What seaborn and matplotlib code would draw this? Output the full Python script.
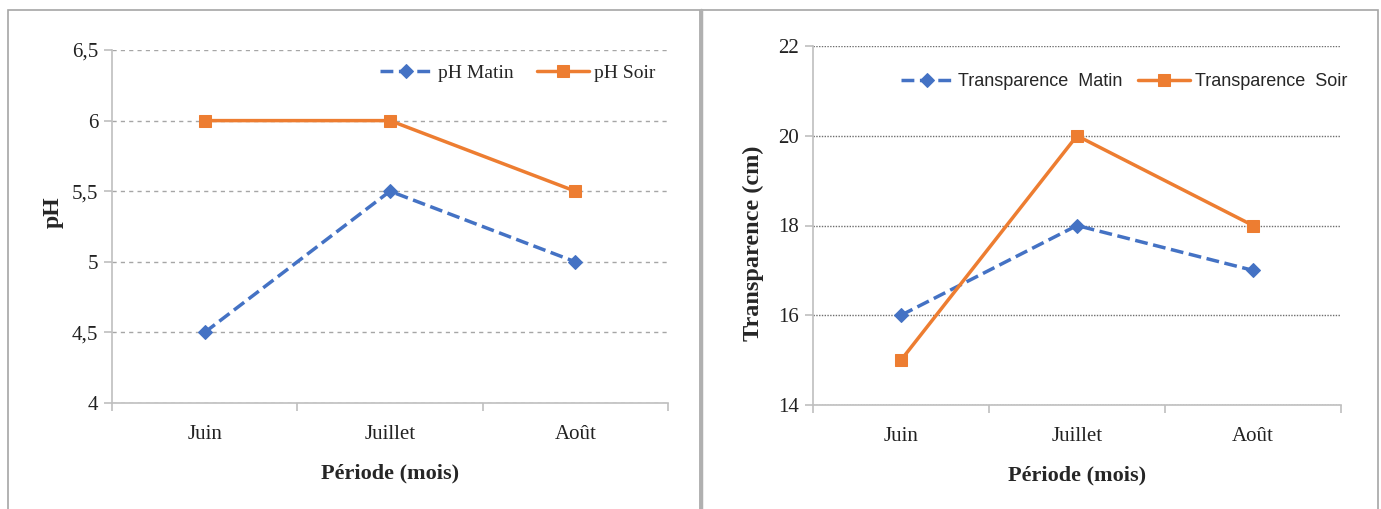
import numpy as np
import pandas as pd
import matplotlib.pyplot as plt
import seaborn as sns
from matplotlib.patches import Rectangle
from matplotlib.lines import Line2D

# Data
mois = ["Juin", "Juillet", "Août"]
ph_matin = [4.5, 5.5, 5.0]
ph_soir = [6.0, 6.0, 5.5]
transp_matin = [16, 18, 17]
transp_soir = [15, 20, 18]

blue = "#4472C4"
orange = "#ED7D31"

sns.set_theme(style="white")
plt.rcParams['font.family'] = ['Liberation Serif', 'DejaVu Serif']

fig = plt.figure(figsize=(13.81, 5.09), dpi=100)

# panel borders
W, H = 1381, 509
def px_rect(x0, y0, x1, y1, lw):
    fig.patches.append(Rectangle((x0 / W, 1 - y1 / H), (x1 - x0) / W, (y1 - y0) / H,
                                 transform=fig.transFigure, fill=False,
                                 edgecolor="#a6a6a6", linewidth=lw, zorder=0))
px_rect(8, 10, 700, 515, 1.2)
px_rect(702, 10, 1378, 515, 1.2)
fig.lines.append(Line2D([701 / W, 701 / W], [0, 1 - 10 / H], transform=fig.transFigure,
                        color="#b0b0b0", linewidth=2.5))

ax1 = fig.add_axes([112 / W, 1 - 403 / H, 556 / W, 353 / H])
ax2 = fig.add_axes([813 / W, 1 - 405 / H, 528 / W, 359 / H])


def draw(ax, matin, soir, lab_m, lab_s):
    df = pd.DataFrame({"mois": mois, "matin": matin, "soir": soir})
    sns.lineplot(data=df, x="mois", y="matin", ax=ax, color=blue, linestyle="--",
                 linewidth=2.5, marker="D", markersize=7, markeredgecolor=blue,
                 label=lab_m, sort=False)
    sns.lineplot(data=df, x="mois", y="soir", ax=ax, color=orange, linestyle="-",
                 linewidth=2.5, marker="s", markersize=9, markeredgecolor=orange,
                 label=lab_s, sort=False)
    ax.set_xlim(-0.5, 2.5)
    for s in ["top", "right"]:
        ax.spines[s].set_visible(False)
    for s in ["left", "bottom"]:
        ax.spines[s].set_color("#bfbfbf")
        ax.spines[s].set_linewidth(1.2)
    ax.set_xticks([0, 1, 2])
    ax.set_xticklabels(mois)
    ax.set_xticks([-0.5, 0.5, 1.5, 2.5], minor=True)
    ax.tick_params(axis="x", which="major", length=0, pad=16, labelsize=15, colors="#222222")
    ax.tick_params(axis="x", which="minor", length=6, color="#bfbfbf", width=1.2, bottom=True)
    ax.tick_params(axis="y", length=6, color="#bfbfbf", width=1.2, left=True,
                   labelsize=15, colors="#222222", pad=4)
    ax.set_xlabel("Période (mois)", fontsize=16, fontweight="bold", labelpad=14)


draw(ax1, ph_matin, ph_soir, "pH Matin", "pH Soir")
ax1.set_ylim(4, 6.5)
ph_ticks = [4, 4.5, 5, 5.5, 6, 6.5]
ax1.set_yticks(ph_ticks)
ax1.set_yticklabels([f"{t:g}".replace(".", ",") for t in ph_ticks])
ax1.yaxis.grid(True, linestyle=(0, (3, 3)), color="#a6a6a6", linewidth=1)
ax1.set_axisbelow(True)
ax1.set_ylabel("pH", fontsize=17, fontweight="bold", labelpad=6)
ax1.yaxis.label.set_y(0.54)
ax1.legend(loc="center right", bbox_to_anchor=(665 / W, 1 - 73 / H),
           bbox_transform=fig.transFigure, frameon=False, ncol=2, fontsize=14,
           handlelength=2.7, handletextpad=0.25, columnspacing=1.2, borderpad=0)

draw(ax2, transp_matin, transp_soir, "Transparence  Matin", "Transparence  Soir")
ax2.set_ylim(14, 22)
ax2.set_yticks([14, 16, 18, 20, 22])
ax2.yaxis.grid(True, linestyle=(0, (1, 1)), color="#6e6e6e", linewidth=1)
ax2.set_axisbelow(True)
ax2.set_ylabel("Transparence (cm)", fontsize=17.5, fontweight="bold", labelpad=10)
ax2.yaxis.label.set_y(0.45)
ax2.legend(loc="center right", bbox_to_anchor=(1356 / W, 1 - 82 / H),
           bbox_transform=fig.transFigure, frameon=False, ncol=2,
           prop={"family": ["Liberation Sans", "DejaVu Sans"], "size": 13},
           handlelength=2.9, handletextpad=0.25, columnspacing=0.85, borderpad=0)

fig.savefig("out.png", dpi=100)
